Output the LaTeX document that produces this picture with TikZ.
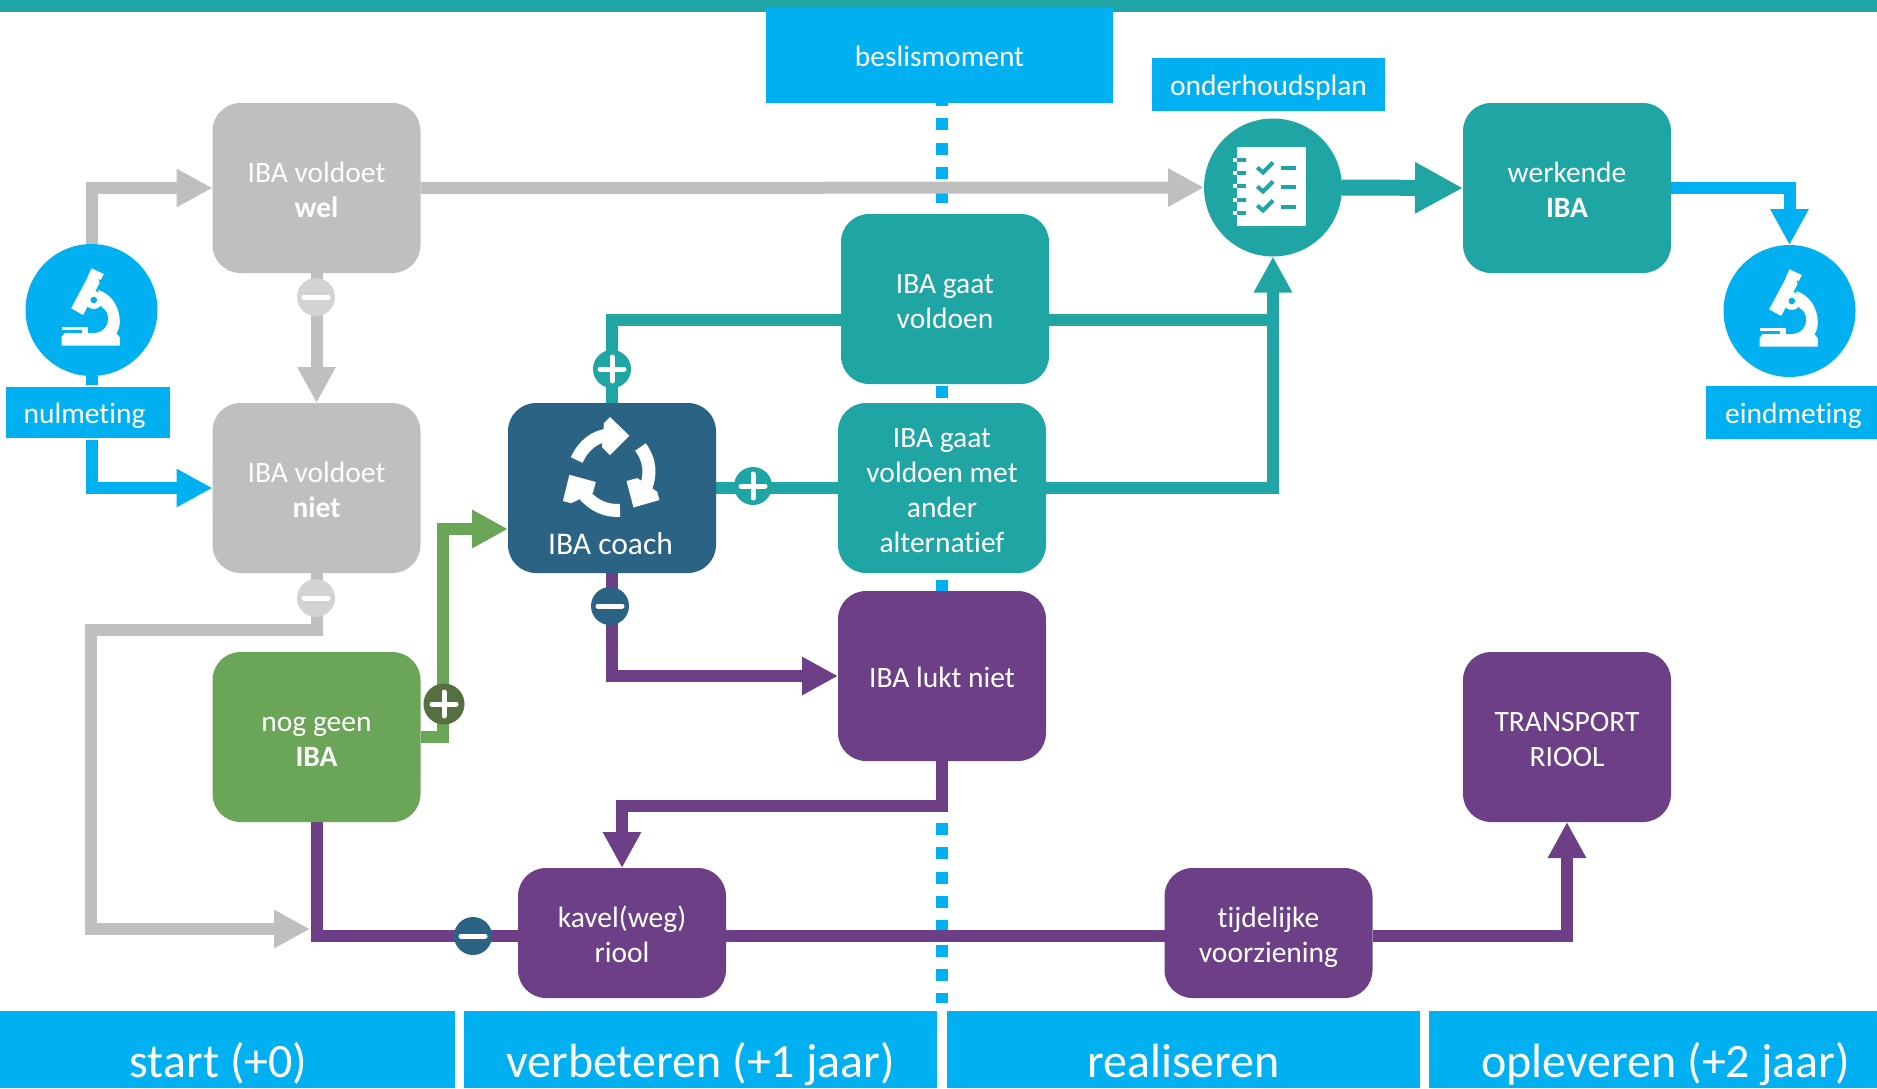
\documentclass[tikz,border=0pt]{standalone}
\usepackage{fontspec}
\usepackage{xcolor}
\setmainfont[Ligatures=NoCommon]{Carlito}
\usetikzlibrary{arrows.meta,backgrounds}

\definecolor{blauw}{HTML}{00B0F0}
\definecolor{teal}{HTML}{1FA5A3}
\definecolor{grijs}{HTML}{BFBFBF}
\definecolor{lichtgrijs}{HTML}{D3D3D3}
\definecolor{groen}{HTML}{6AA558}
\definecolor{donkergroen}{HTML}{566F40}
\definecolor{paars}{HTML}{6C3F87}
\definecolor{coachblauw}{HTML}{2B6385}

% first line of a box: keeps the text at the same height in every box
\newcommand{\regel}{\rule{0pt}{33.5pt}}

\tikzset{
  blok/.style={fill=#1,rounded corners=28pt,minimum width=208pt,minimum height=170pt,
    inner sep=0pt,outer sep=0pt,text=white,align=center,font=\fontsize{29.5}{35}\selectfont,
    execute at end node=\strut},
  plat/.style={blok=#1,minimum height=130pt},
  kaart/.style={fill=blauw,inner sep=0pt,outer sep=0pt,text=white,align=center,
    text height=27pt,text depth=5pt,font=\fontsize{29.5}{35}\selectfont},
  fase/.style={kaart,minimum width=473pt,minimum height=77pt,text height=65pt,text depth=10pt,
    font=\fontsize{48}{58}\selectfont},
  rond/.style={circle,fill=#1,inner sep=0pt,outer sep=0pt},
  lijn/.style={draw=#1,line width=12pt},
  pijl/.style={lijn=#1,-{Triangle[length=36pt,width=36pt]}},
  minknop/.style={circle,fill=#1,minimum size=38pt,inner sep=0pt,outer sep=0pt,
    path picture={\draw[white,line width=5pt,line cap=round] (path picture bounding box.center) +(-12,0) -- +(12,0);}},
  plusknop/.style={circle,fill=#1,minimum size=38pt,inner sep=0pt,outer sep=0pt,
    path picture={\draw[white,line width=5pt,line cap=round] (path picture bounding box.center) +(-12,0) -- +(12,0) +(0,-12) -- +(0,12);}},
  microscoop/.pic={
    \fill[white] (0,-41.7) -- (12.3,-36) -- (9.3,-30) -- (7,-31) -- (8,-27) -- (-8.3,5)
      -- (-20.3,-1.7) -- (-4.3,-31.7) -- (-2.7,-36) -- cycle;
    \fill[white] (6.7,-20) .. controls (20,-16) and (28.3,-3) .. (28.3,11.7)
      .. controls (28.3,16) and (27,20) .. (25,23.3) -- (28.3,27.3) -- (28.3,35.7) -- (-30,35.7)
      -- (-30,27) -- (-26.7,23) -- (3.3,23)
      .. controls (12,22) and (16.7,16) .. (16.7,9) .. controls (16.7,3) and (14,-1) .. (10,-3) -- cycle;
    \fill[white] (-30,16.7) rectangle (-4,19.5);
    \fill[white] (-10,19) rectangle (-4,23.5);
    \fill[white] (2.3,-10) circle (9);
    \fill[blauw] (2.3,-10) circle (3.3);
  },
  kringloop/.pic={
    \draw[white,line width=13pt] (-35,-8) .. controls (-28,-23.3) and (-16.7,-31.7) .. (-2,-33.3);
    \fill[white] (-7.7,-45) -- (-1.7,-51) -- (17.7,-32.3) -- (-1.7,-13) -- (-9.7,-21) -- cycle;
    \draw[white,line width=13pt] (28.7,-21) .. controls (38.3,-8.3) and (40,6.7) .. (33,22);
    \fill[white] (45.5,23.8) -- (47.7,32) -- (21.8,39.5) -- (14.8,13) -- (25.7,10.1) -- cycle;
    \draw[white,line width=13pt] (8.3,42.3) .. controls (-5,43.3) and (-18,38) .. (-28,26);
    \fill[white] (-40.6,35.2) -- (-48.8,33) -- (-42.3,6.8) -- (-15.9,14) -- (-18.8,24.9) -- cycle;
  },
  checklist/.pic={
    \fill[white] (-35.7,-40.3) rectangle (33,38.7);
    % the binding on the left
    \fill[white] (-40.3,-30) rectangle (-35.7,-26);
    \fill[white] (-40.3,-16.7) rectangle (-35.7,-12.7);
    \fill[white] (-40.3,-3.3) rectangle (-35.7,0.7);
    \fill[white] (-40.3,10) rectangle (-35.7,14);
    \fill[white] (-40.3,23.3) rectangle (-35.7,27.3);
    \fill[teal] (-35.7,-30) rectangle (-27,-26);
    \fill[teal] (-35.7,-16.7) rectangle (-27,-12.7);
    \fill[teal] (-35.7,-3.3) rectangle (-27,0.7);
    \fill[teal] (-35.7,10) rectangle (-27,14);
    \fill[teal] (-35.7,23.3) rectangle (-27,27.3);
    % ticks and lines
    \draw[teal,line width=4pt] (-15.7,-20) -- (-10,-15) -- (0,-25);
    \draw[teal,line width=4pt] (-15.7,-1) -- (-10,4) -- (0,-6);
    \draw[teal,line width=4pt] (-15.7,18) -- (-10,23) -- (0,13);
    \draw[teal,line width=4pt] (7.5,-20) -- (22.5,-20);
    \draw[teal,line width=4pt] (7.5,-1) -- (22.5,-1);
    \draw[teal,line width=4pt] (7.5,19.5) -- (22.5,19.5);
  }
}

\begin{document}
\begin{tikzpicture}[x=1pt,y=-1pt]
  \useasboundingbox (0,0) rectangle (1877,1088);

  % top bar and the phases at the bottom
  \node[fill=teal,minimum width=1877pt,minimum height=12pt,inner sep=0pt,outer sep=0pt] (balk) at (938.5,6) {};
  \node[fase] (start) at (218.5,1049.5) {start (+0)};
  \node[fase] (verbeteren) at (700.5,1049.5) {verbeteren (+1 jaar)};
  \node[fase] (realiseren) at (1183.5,1049.5) {realiseren};
  \node[fase] (opleveren) at (1665.5,1049.5) {opleveren (+2 jaar)};

  % the boxes
  \node[blok=grijs] (wel) at (316.5,188) {\regel IBA voldoet\\\textbf{wel}};
  \node[blok=grijs] (niet) at (316.5,488) {\regel IBA voldoet\\\textbf{niet}};
  \node[blok=groen] (nieuw) at (316.5,737) {\regel nog geen\\\textbf{IBA}};
  \node[blok=coachblauw] (coach) at (612,488) {};
  \node[blok=teal] (gaat) at (945,299) {\regel IBA gaat\\voldoen};
  \node[blok=teal] (ander) at (942,488) {\regel IBA gaat\\voldoen met\\ander\\alternatief};
  \node[blok=paars] (lukt) at (942,676) {\regel IBA lukt niet};
  \node[plat=paars] (kavel) at (622,933) {\regel kavel(weg)\\riool};
  \node[plat=paars] (tijdelijk) at (1268.5,933) {\regel tijdelijke\\voorziening};
  \node[blok=paars] (transport) at (1567,737) {\regel TRANSPORT\\RIOOL};
  \node[blok=teal] (werkend) at (1567,188) {\regel werkende\\\textbf{IBA}};
  \node[text=white,font=\fontsize{31.5}{38}\selectfont,inner sep=0pt] (coachtekst) at (610.5,544) {IBA coach};

  % circles with their labels
  \node[rond=blauw,minimum size=132pt] (nul) at (91.5,310) {};
  \node[rond=blauw,minimum size=132pt] (eind) at (1789.5,311) {};
  \node[rond=teal,minimum size=138pt] (plan) at (1273,187.5) {};
  \node[kaart,draw=white,line width=1.5pt,minimum width=165pt,minimum height=53pt] (nullabel) at (88,412.5) {nulmeting\hspace*{7pt}};
  \node[kaart,minimum width=175pt,minimum height=53pt] (eindlabel) at (1793.5,412.5) {eindmeting};
  \node[kaart,minimum width=233pt,minimum height=53pt] (planlabel) at (1268.5,84.5) {onderhoudsplan};
  \node[kaart,minimum width=347pt,minimum height=96pt] (beslis) at (939.5,55) {beslismoment};

  % where a line does not meet the middle of a box
  \coordinate (coachin) at (508,529);
  \coordinate (gaatin) at (841,320);
  \coordinate (gaatuit) at (1049,320);
  \coordinate (grijseinde) at (310,929);
  \coordinate (paarslijn) at (1000,935.5);

  \begin{scope}[on background layer]
    % the decision line
    \draw[blauw,line width=12pt,dash pattern=on 12pt off 12.3pt] (942,94) -- (942,1003);

    \draw[pijl=grijs] (nul.north) |- (wel.west);
    \draw[pijl=grijs] (wel.east) -- (plan.west);
    \draw[pijl=grijs] (wel.south) -- (niet.north);
    \draw[pijl=grijs] (niet.south) -- ++(0,57) -- ++(-226,0) |- (grijseinde);
    \draw[pijl=blauw] (nul.south) |- (niet.west);
    \draw[pijl=blauw] (werkend.east) -| (eind.north);
    \draw[pijl=groen] (nieuw.east) -- ++(22,0) |- (coachin);
    \draw[lijn=teal] (coach.north) |- (gaatin);
    \draw[lijn=teal] (gaatuit) -- (plan.south |- gaatuit);
    \draw[lijn=teal] (coach.east) -- (ander.west);
    \draw[pijl=teal] (ander.east) -| (plan.south);
    \draw[teal,line width=16pt,-{Triangle[length=48pt,width=48pt]}] (plan.east) -- (werkend.west);
    \draw[pijl=paars] (coach.south) |- (lukt.west);
    \draw[pijl=paars] (lukt.south) -- ++(0,45) -| (kavel.north);
    \draw[lijn=paars] (nieuw.south) |- (kavel.west |- paarslijn);
    \draw[lijn=paars] (kavel.east |- paarslijn) -- (tijdelijk.west |- paarslijn);
    \draw[pijl=paars] (tijdelijk.east |- paarslijn) -| (transport.south);
  \end{scope}

  % plus and minus on the lines
  \node[minknop=lichtgrijs] (minwel) at (316,297) {};
  \node[minknop=lichtgrijs] (minniet) at (316,598) {};
  \node[plusknop=donkergroen,minimum size=41pt] (plusnieuw) at (444,704) {};
  \node[plusknop=teal] (plusgaat) at (612,369) {};
  \node[plusknop=teal] (plusander) at (753,486) {};
  \node[minknop=coachblauw] (mincoach) at (610,606) {};
  \node[minknop=coachblauw] (minkavel) at (473,936) {};

  % icons
  \pic at (91.5,310) {microscoop};
  \pic at (1789.5,311) {microscoop};
  \pic at (611.7,468) {kringloop};
  \pic at (1273,187.5) {checklist};
\end{tikzpicture}
\end{document}
